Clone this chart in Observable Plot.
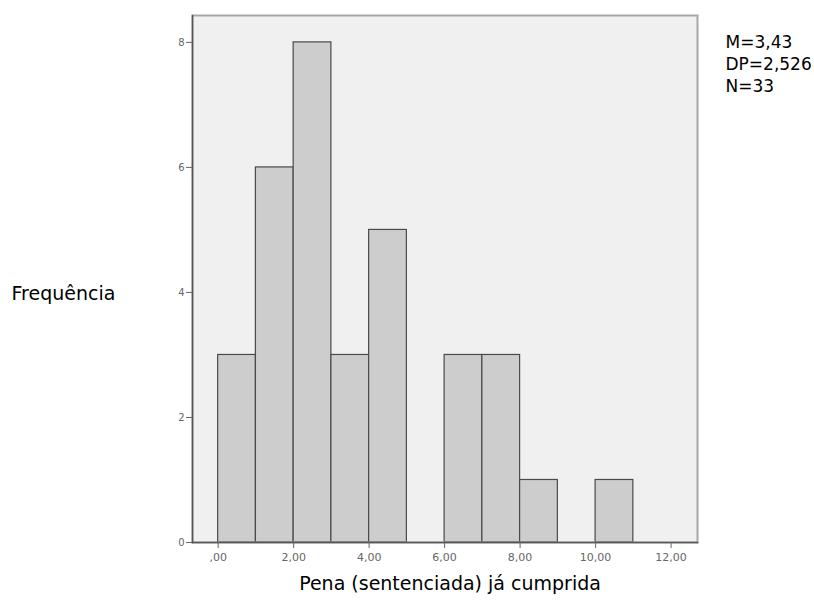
<!DOCTYPE html>
<html><head><meta charset="utf-8">
<script src="https://cdn.jsdelivr.net/npm/d3@7"></script>
<script src="https://cdn.jsdelivr.net/npm/@observablehq/plot@0.6"></script>
<style>body{margin:0;background:#fff}</style>
</head><body><div id="chart"></div>
<script>
const binStart = [0,1,2,3,4,5,6,7,8,9,10];
const counts = [3,6,8,3,5,0,3,3,1,0,1];
const xTicks = [0,2,4,6,8,10,12];
const xTickLabels = [",00","2,00","4,00","6,00","8,00","10,00","12,00"];
const yTicks = [0,2,4,6,8];
const statsLines = ["M=3,43","DP=2,526","N=33"];
const xTitle = "Pena (sentenciada) já cumprida";
const yTitle = "Frequência";

const bins = binStart.map((s,i)=>({x1:s,x2:s+1,y:counts[i]})).filter(d=>d.y>0);

const chart = Plot.plot({
  width:814, height:603,
  marginLeft:192, marginRight:117, marginTop:15, marginBottom:61,
  x:{domain:[-0.68,12.7]},
  y:{domain:[0,8.43]},
  style:{fontFamily:"DejaVu Sans", background:"#fff", color:"#000"},
  marks:[
    Plot.frame({fill:"#f0f0f0", stroke:null}),
    Plot.rectY(bins,{x1:"x1",x2:"x2",y:"y",fill:"#cdcdcd",stroke:"#4a4a4a",strokeWidth:1.2}),
    Plot.frame({stroke:"#a8a8a8", strokeWidth:2}),
    Plot.frame({anchor:"left", stroke:"#555", strokeWidth:1.5}),
    Plot.frame({anchor:"bottom", stroke:"#555", strokeWidth:1.5}),
    Plot.axisX({ticks:xTicks, tickFormat:d=>xTickLabels[xTicks.indexOf(d)], tickSize:6, tickPadding:5, fontSize:11, color:"#666", label:null}),
    Plot.axisY({ticks:yTicks, tickFormat:d=>String(d), tickSize:6, tickPadding:2, fontSize:10, color:"#666", label:null}),
    Plot.text([yTitle], {frameAnchor:"left", textAnchor:"start", dx:-181, dy:15, fontSize:19, fill:"#000"}),
    Plot.text([xTitle], {frameAnchor:"bottom", dx:5, dy:47, fontSize:19, fill:"#000"}),
    Plot.text([statsLines.join("\n")], {frameAnchor:"top-right", textAnchor:"start", lineAnchor:"top", dx:28, dy:17, fontSize:17, lineHeight:1.3, fill:"#000"})
  ]
});
document.getElementById("chart").append(chart);
</script>
</body></html>
